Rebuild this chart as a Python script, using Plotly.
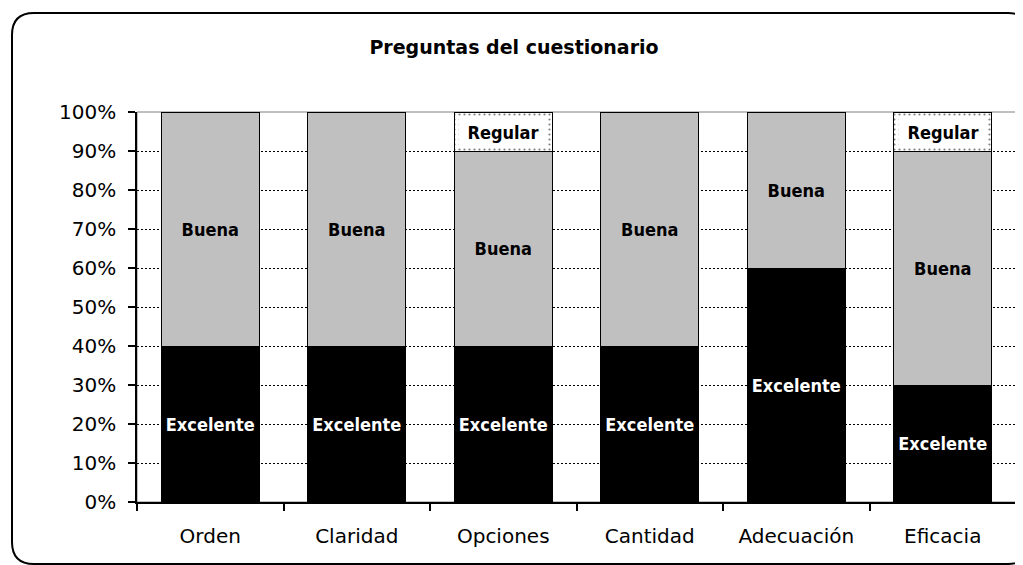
import plotly.graph_objects as go

categories = ["Orden", "Claridad", "Opciones", "Cantidad", "Adecuación", "Eficacia"]
excelente = [40, 40, 40, 40, 60, 30]
buena = [60, 60, 50, 60, 40, 60]
regular = [None, None, 10, None, None, 10]
y_ticks = [0, 10, 20, 30, 40, 50, 60, 70, 80, 90, 100]

# page has an 8px body margin; figure sized to fit the window
OFF = 8
W, H = 1023 - OFF, 565 - OFF
ML = 137 - OFF
MT = 112 - OFF
MR = W - (1016 - OFF)
MB = H - (502 - OFF)
PW, PH = W - ML - MR, H - MT - MB


def px_to_paper_x(px):
    return (px - OFF - ML) / PW


def px_to_paper_y(py):
    return (H - MB - (py - OFF)) / PH


label_font = dict(family="DejaVu Sans Condensed", size=18, weight="bold")

fig = go.Figure()
fig.add_trace(go.Bar(
    name="Excelente", x=categories, y=excelente,
    marker=dict(color="#000000", line=dict(color="#000000", width=1)),
    text=["Excelente"] * len(categories), textposition="inside",
    insidetextanchor="middle", textangle=0,
    textfont=dict(color="#FFFFFF", **label_font),
))
fig.add_trace(go.Bar(
    name="Buena", x=categories, y=buena,
    marker=dict(color="#C0C0C0", line=dict(color="#000000", width=1)),
    text=["Buena"] * len(categories), textposition="inside",
    insidetextanchor="middle", textangle=0,
    textfont=dict(color="#000000", **label_font),
))
fig.add_trace(go.Bar(
    name="Regular", x=categories, y=regular,
    marker=dict(color="#FFFFFF", line=dict(color="#000000", width=1),
                pattern=dict(shape=".", fgcolor="#000000", bgcolor="#FFFFFF",
                             size=5, solidity=0.15)),
))

# Regular labels with white box
for i, c in enumerate(categories):
    if regular[i]:
        base = excelente[i] + buena[i]
        fig.add_annotation(x=c, y=base + regular[i] / 2, text="Regular",
                           showarrow=False, bgcolor="#FFFFFF", borderpad=0,
                           width=88, height=28,
                           font=dict(color="#000000", **label_font))

# rounded outer frame (extends past the right/bottom edges of the window)
x0, x1 = px_to_paper_x(12), px_to_paper_x(1030)
y0, y1 = px_to_paper_y(564), px_to_paper_y(13)
rx, ry = 22 / PW, 22 / PH
path = (f"M {x0 + rx} {y1} L {x1 - rx} {y1} Q {x1} {y1} {x1} {y1 - ry} "
        f"L {x1} {y0 + ry} Q {x1} {y0} {x1 - rx} {y0} L {x0 + rx} {y0} "
        f"Q {x0} {y0} {x0} {y0 + ry} L {x0} {y1 - ry} Q {x0} {y1} {x0 + rx} {y1} Z")
fig.add_shape(type="path", path=path, xref="paper", yref="paper",
              line=dict(color="#000000", width=2), layer="below")
# gray plot border
fig.add_shape(type="rect", xref="paper", yref="paper", x0=0, x1=1, y0=0, y1=1,
              line=dict(color="#808080", width=1), layer="between")

fig.update_layout(
    width=W, height=H, barmode="stack", bargap=0.33, showlegend=False,
    margin=dict(l=ML, r=MR, t=MT, b=MB, pad=0),
    paper_bgcolor="#FFFFFF", plot_bgcolor="#FFFFFF",
    font=dict(family="DejaVu Sans", color="#000000"),
    title=dict(text="Preguntas del cuestionario", xref="container", yref="container",
               x=(514 - OFF) / W, y=1 - (47 - OFF) / H, xanchor="center", yanchor="middle",
               font=dict(family="DejaVu Sans", size=19, weight="bold", color="#000000")),
)
fig.update_xaxes(
    type="category", tickson="boundaries", ticks="outside", ticklen=7,
    tickcolor="#000000", tickwidth=1.5, showline=True, linecolor="#000000",
    linewidth=1.5, showgrid=False, tickfont=dict(size=20, family="DejaVu Sans"),
    ticklabelstandoff=15,
)
fig.update_yaxes(
    range=[0, 100], tickvals=y_ticks, ticktext=[f"{v}%" for v in y_ticks],
    ticks="outside", ticklen=7, tickcolor="#000000", tickwidth=1.5,
    showline=True, linecolor="#000000", linewidth=1.5,
    showgrid=True, gridcolor="#000000", griddash="2px,2px", gridwidth=1,
    zeroline=False, tickfont=dict(size=20, family="DejaVu Sans"),
    ticklabelstandoff=8,
)

fig.write_html("out.html")
